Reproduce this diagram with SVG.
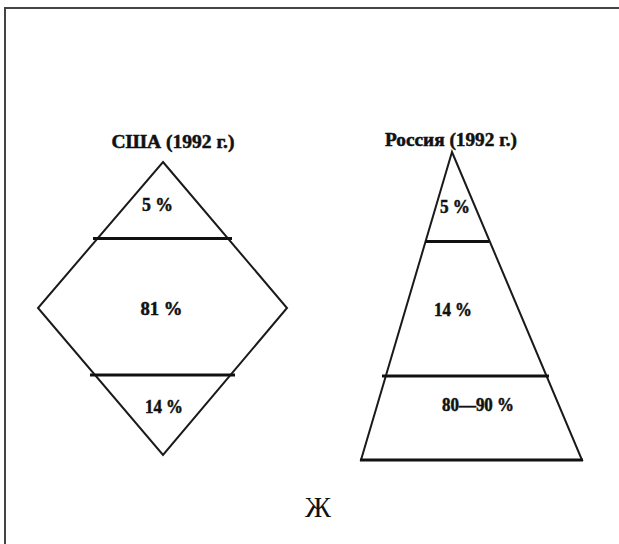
<svg xmlns="http://www.w3.org/2000/svg" width="619" height="544" viewBox="0 0 619 544">
<style>
.shape{fill:none;stroke:#1a1a1a;stroke-width:2;stroke-linejoin:miter}
.div{stroke:#111;stroke-width:3}
.t{font-family:"Liberation Serif","Times New Roman",serif;font-weight:bold;font-size:18px;fill:#111;stroke:#111;stroke-width:0.5;text-anchor:middle}
.cap{font-family:"Liberation Serif","Times New Roman",serif;font-size:29px;fill:#111;text-anchor:middle}
</style>
<rect width="619" height="544" fill="#fff"/>
<path d="M5 544 V8 H619" fill="none" stroke="#444" stroke-width="2"/>
<g id="usa">
<text class="t" x="173" y="148" textLength="123" lengthAdjust="spacingAndGlyphs">США (1992 г.)</text>
<polygon class="shape" points="163,162 287,308 163,455 38,308"/>
<line class="div" x1="93" y1="238.5" x2="232" y2="238.5"/>
<line class="div" x1="90" y1="375" x2="235" y2="375"/>
<text class="t" x="157.5" y="210.5" textLength="31" lengthAdjust="spacingAndGlyphs">5 %</text>
<text class="t" x="161.5" y="315" textLength="42" lengthAdjust="spacingAndGlyphs">81 %</text>
<text class="t" x="164" y="413" textLength="38" lengthAdjust="spacingAndGlyphs">14 %</text>
</g>
<g id="russia">
<text class="t" x="451" y="146" textLength="132" lengthAdjust="spacingAndGlyphs">Россия (1992 г.)</text>
<polygon class="shape" points="452,152 582,460 361,460"/>
<line class="div" x1="425" y1="241.5" x2="489" y2="241.5"/>
<line class="div" x1="382" y1="376" x2="549" y2="376"/>
<line class="div" x1="360" y1="460" x2="583" y2="460"/>
<text class="t" x="455" y="213" textLength="30" lengthAdjust="spacingAndGlyphs">5 %</text>
<text class="t" x="453" y="316" textLength="38" lengthAdjust="spacingAndGlyphs">14 %</text>
<text class="t" x="478" y="410.5" textLength="72" lengthAdjust="spacingAndGlyphs">80—90 %</text>
</g>
<text class="cap" x="318" y="517">Ж</text>
</svg>
